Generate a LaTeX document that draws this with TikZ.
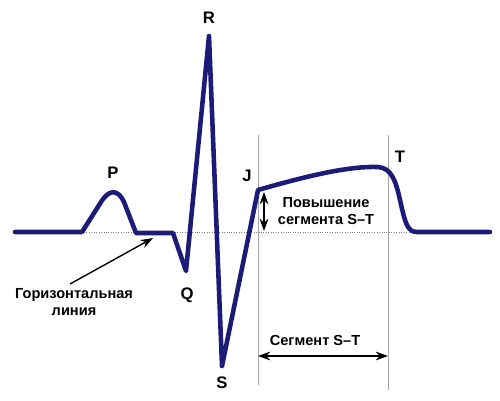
\documentclass[tikz,border=0pt]{standalone}
\usepackage{fontspec}
\setmainfont{Liberation Sans}
\usetikzlibrary{arrows.meta}
\definecolor{ecg}{RGB}{28,28,120}
\begin{document}
\begin{tikzpicture}[x=0.02cm,y=-0.02cm,
  lbl/.style={font=\fontsize{9.5}{10}\selectfont\bfseries,inner sep=1pt},
  txt/.style={font=\fontsize{8.3}{9.5}\selectfont\bfseries,align=center,inner sep=1pt},
  guide/.style={gray!70,line width=0.5pt},
  arr/.style={black,line width=0.8pt,-{Stealth[length=7pt,width=5pt]}},
  darr/.style={black,line width=0.8pt,{Stealth[length=7pt,width=5pt]}-{Stealth[length=7pt,width=5pt]}}]
\useasboundingbox (0,0) rectangle (500,400);
% baseline
\coordinate (b0) at (15,232);
\coordinate (b1) at (490,232);
\draw[gray,line width=0.4pt,densely dotted] (b0) -- (b1);
% vertical guides
\coordinate (g1t) at (258,135);
\coordinate (g1b) at (258,385);
\coordinate (g2t) at (388,135);
\coordinate (g2b) at (388,390);
\draw[guide] (g1t) -- (g1b);
\draw[guide] (g2t) -- (g2b);
% ECG curve
\coordinate (Qp) at (186,271);
\coordinate (Rp) at (209,36);
\coordinate (Sp) at (222,366);
\coordinate (Jp) at (258,190);
\draw[ecg,line width=2.6pt,line join=round,line cap=round]
  (b0) -- (82,232) -- (101,202) .. controls (109,189) and (118,189) .. (124,202)
  -- (136,233) -- (173,233) -- (Qp) -- (Rp) -- (Sp) -- (Jp)
  .. controls (310,175) and (350,166) .. (378,167)
  .. controls (392,168) and (396,182) .. (400,200)
  .. controls (405,222) and (407,232) .. (417,232) -- (b1);
% labels
\node[lbl] (P) at (113,173) {P};
\node[lbl] (R) at (209,18) {R};
\node[lbl] (Q) at (187,295) {Q};
\node[lbl] (S) at (222,383) {S};
\node[lbl] (J) at (247,176) {J};
\node[lbl] (T) at (400,157) {T};
% horizontal line label
\node[txt] (hl) at (74,302) {Горизонтальная\\линия};
\coordinate (hlh) at (153,238);
\draw[arr] (70,284) -- (hlh);
% elevation
\coordinate (e1) at (264,192);
\coordinate (e2) at (264,231);
\draw[darr] (e1) -- (e2);
\node[txt] (elev) at (326,211) {Повышение\\сегмента S–T};
% segment
\coordinate (s1) at (258,356);
\coordinate (s2) at (388,356);
\draw[darr] (s1) -- (s2);
\node[txt] (seg) at (315,340) {Сегмент S–T};
\end{tikzpicture}
\end{document}
